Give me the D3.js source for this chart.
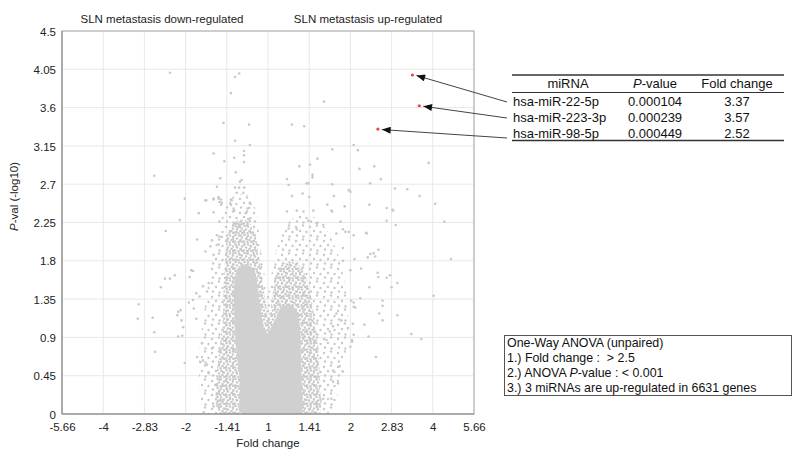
<!DOCTYPE html>
<html>
<head>
<meta charset="utf-8">
<script src="https://cdn.jsdelivr.net/npm/d3@7"></script>
<style>
  body { margin: 0; background: #fff; }
  svg { font-family: Arial, "Liberation Sans", sans-serif; }
  .pre { white-space: pre; }
</style>
</head>
<body>
<svg id="chart" width="792" height="449"></svg>
<script>
'use strict';

// x axis is log2(fold change), labelled with the signed fold change
const X_TICKS = [-2.5, -2, -1.5, -1, -0.5, 0, 0.5, 1, 1.5, 2, 2.5];
const X_TICK_LABELS = ['-5.66', '-4', '-2.83', '-2', '-1.41', '1', '1.41', '2', '2.83', '4', '5.66'];
const Y_TICKS = [0, 0.45, 0.9, 1.35, 1.8, 2.25, 2.7, 3.15, 3.6, 4.05, 4.5];
const Y_TICK_LABELS = ['0', '0.45', '0.9', '1.35', '1.8', '2.25', '2.7', '3.15', '3.6', '4.05', '4.5'];

// significant miRNAs (table + red points)
const MIRNAS = ['hsa-miR-22-5p', 'hsa-miR-223-3p', 'hsa-miR-98-5p'];
const P_VALUES = [0.000104, 0.000239, 0.000449];
const FOLD_CHANGES = [3.37, 3.57, 2.52];

// outline of the point cloud, [log2FC, -log10 p]
const CLOUD_SPARSE = [[-0.76, 0], [-0.83, 0.34], [-0.83, 0.75], [-0.78, 1.16], [-0.73, 1.52], [-0.66, 1.87],
  [-0.58, 2.22], [-0.51, 2.46], [-0.39, 2.57], [-0.24, 2.57], [-0.15, 2.40], [-0.10, 2.04], [-0.05, 1.69],
  [0, 1.43], [0.05, 1.69], [0.12, 1.99], [0.22, 2.22], [0.39, 2.34], [0.61, 2.28], [0.78, 2.04],
  [0.90, 1.69], [0.97, 1.22], [0.95, 0.75], [0.85, 0.34], [0.78, 0]];
const CLOUD_MID = [[-0.58, 0], [-0.63, 0.34], [-0.59, 0.75], [-0.55, 1.10], [-0.54, 1.46], [-0.52, 1.81],
  [-0.49, 2.10], [-0.40, 2.26], [-0.28, 2.28], [-0.18, 2.19], [-0.12, 1.93], [-0.07, 1.57], [-0.02, 1.28],
  [0, 1.13], [0.04, 1.28], [0.07, 1.52], [0.13, 1.72], [0.24, 1.79], [0.39, 1.74], [0.49, 1.52],
  [0.56, 1.16], [0.61, 0.75], [0.63, 0.34], [0.61, 0]];
const CLOUD_CORE = [[-0.30, 0], [-0.34, 0.40], [-0.39, 0.81], [-0.41, 1.22], [-0.41, 1.52], [-0.36, 1.72],
  [-0.27, 1.76], [-0.17, 1.69], [-0.12, 1.46], [-0.08, 1.16], [-0.02, 0.93], [0.02, 0.99], [0.10, 1.13],
  [0.16, 1.25], [0.27, 1.28], [0.35, 1.20], [0.39, 0.99], [0.40, 0.63], [0.41, 0.28], [0.39, 0]];

// single scattered points outside the dense cloud, [log2FC, -log10 p]
const SCATTER = [
  [-1.19, 4.01], [-0.35, 4.00], [-0.40, 3.96], [-0.45, 3.77], [-0.54, 3.42], [-0.23, 3.40], [-0.40, 3.21],
  [-0.22, 3.16], [-0.66, 3.06], [-0.29, 3.09], [-0.29, 3.04], [-0.41, 3.01], [-0.53, 2.97], [-0.29, 2.96],
  [-1.38, 2.80], [-0.39, 2.84], [-0.32, 2.75], [-0.34, 2.73], [-0.58, 2.77], [-0.62, 2.67], [-0.40, 2.66],
  [-0.35, 2.66], [-0.29, 2.66], [-0.38, 2.60], [-0.30, 2.60], [-1.01, 2.53], [-0.66, 2.53], [-0.60, 2.53],
  [-0.57, 2.52], [-0.75, 2.51], [-0.45, 2.52],
  [0.68, 3.67], [0.29, 3.40], [0.44, 3.38], [1.04, 3.16], [0.78, 3.11], [1.09, 3.10], [0.60, 3.00],
  [1.95, 2.95], [0.38, 2.91], [0.51, 2.93], [1.11, 2.88], [1.29, 2.91], [0.54, 2.81], [0.54, 2.78],
  [0.23, 2.76], [1.37, 2.76], [0.47, 2.71], [0.49, 2.71], [0.25, 2.69], [0.78, 2.70], [1.24, 2.71],
  [0.98, 2.63], [1.00, 2.61], [1.54, 2.65], [1.69, 2.64], [0.29, 2.56], [0.42, 2.59], [0.50, 2.55],
  [0.80, 2.56], [1.84, 2.56],
  [-1.07, 2.28], [-0.84, 2.36], [-0.66, 2.37], [-1.24, 2.15], [-0.86, 2.05], [-1.25, 1.59], [-1.19, 1.59],
  [-1.13, 1.63], [-1.30, 1.49], [-1.57, 1.29], [-1.58, 1.12], [-1.40, 1.13], [-1.38, 0.96], [-1.37, 0.73],
  [-1.09, 1.20], [-1.06, 1.22], [-1.10, 1.16], [-1.05, 1.10], [-1.03, 1.02], [-1.09, 0.91], [-1.04, 0.92],
  [-1.01, 0.60], [-0.91, 1.68], [-0.95, 1.61], [-0.96, 1.31], [-0.90, 1.24], [-0.87, 1.12], [-0.86, 0.67],
  [-0.82, 0.61], [-0.78, 0.02], [-0.66, 0.09], [-0.61, 0.15], [-0.62, 0.35],
  [-0.76, 2.51], [-0.66, 2.52], [-0.60, 2.55], [-0.59, 2.49], [-0.56, 2.48], [-0.59, 2.26], [-0.57, 2.46],
  [-0.44, 2.51], [-0.45, 2.46], [-0.22, 2.48], [-0.23, 2.42], [-0.27, 2.36], [-0.41, 2.39], [-0.38, 2.24],
  [-0.34, 2.22], [-0.37, 2.19], [-0.24, 2.29], [-0.22, 2.27],
  [-0.93, 1.69], [-0.76, 1.91], [-0.70, 1.97], [-0.66, 1.87], [-0.60, 1.99], [-0.62, 2.10], [-0.56, 2.08],
  [-0.50, 2.04], [-0.68, 2.04], [-0.87, 1.42], [-0.91, 1.34], [-0.83, 1.38], [-0.79, 1.50], [-0.72, 1.54],
  [-0.74, 1.44], [-0.79, 0.63], [-0.74, 0.58], [-0.80, 0.83], [-0.68, 0.77], [-0.72, 0.48], [-0.64, 0.34],
  [-0.62, 0.24], [-0.58, 0.16],
  [2.03, 2.47], [2.14, 2.26], [2.22, 1.82], [2.01, 1.39], [1.23, 2.46], [1.44, 2.42], [1.52, 2.39],
  [1.44, 2.27], [1.55, 2.22], [1.19, 2.13], [1.34, 1.93], [1.28, 1.89], [1.24, 1.88], [1.30, 1.85],
  [1.21, 1.84], [1.13, 1.71], [1.33, 1.66], [1.34, 1.61], [1.44, 1.60], [1.48, 1.63], [1.57, 1.54],
  [1.50, 1.49], [1.23, 1.49], [1.39, 1.33], [1.39, 1.27], [1.35, 1.18], [1.39, 1.10], [1.57, 1.16],
  [1.74, 0.94], [1.86, 0.88], [1.31, 0.67], [1.22, 0.91], [1.17, 1.05], [1.04, 0.93], [1.02, 0.87],
  [1.03, 1.06], [1.12, 1.36], [1.06, 1.25], [0.93, 2.44], [0.72, 2.46], [0.78, 2.38], [0.88, 2.26],
  [1.04, 2.10], [0.98, 2.14], [0.94, 2.14], [0.79, 0.38], [0.85, 0.36], [0.67, 0.18], [0.77, 0.18],
  [0.59, 0.14], [0.87, 0.56], [0.91, 0.50], [0.79, 0.51], [1.00, 1.69], [1.05, 1.82], [0.91, 1.80],
  [0.91, 1.95], [1.01, 1.33], [1.04, 1.31], [1.02, 0.85], [1.00, 0.79],
  [0.23, 2.38], [0.35, 2.39], [0.43, 2.38], [0.55, 2.39], [0.59, 2.24], [0.25, 2.18], [0.35, 2.17],
  [0.49, 2.27], [0.67, 2.22], [0.77, 2.39], [0.83, 2.12], [0.91, 2.17], [1.20, 2.12], [1.51, 2.40],
  [1.04, 1.26], [0.89, 1.10], [0.97, 1.01], [0.83, 1.18], [0.79, 1.03], [0.75, 0.97], [0.71, 0.87]
];

const ANOVA_LINES = [
  ['One-Way ANOVA (unpaired)'],
  ['1.) Fold change :  > 2.5'],
  ['2.) ANOVA ', 'P', '-value : < 0.001'],
  ['3.) 3 miRNAs are up-regulated in 6631 genes']
];

const GRAY = '#c9c9c9';
const RED = '#e8463f';

const svg = d3.select('#chart');
const x = d3.scaleLinear().domain([-2.5, 2.5]).range([62, 474]);
const y = d3.scaleLinear().domain([0, 4.5]).range([414, 31]);

const defs = svg.append('defs');
defs.append('clipPath').attr('id', 'plotclip')
    .append('rect')
    .attr('x', x(-2.5)).attr('y', y(4.5))
    .attr('width', x(2.5) - x(-2.5)).attr('height', y(0) - y(4.5));

// dot textures standing in for the overlapping markers of the cloud
function dotPattern(id, size, r, dots) {
  const p = defs.append('pattern').attr('id', id)
      .attr('patternUnits', 'userSpaceOnUse').attr('width', size).attr('height', size);
  dots.forEach(function(d) {
    p.append('circle').attr('cx', d[0]).attr('cy', d[1]).attr('r', r).attr('fill', GRAY);
  });
}
dotPattern('dotsSparse', 14, 1.2, [[2, 3], [9, 1.5], [6, 7], [12.5, 8], [3, 11.5], [9.5, 12.5]]);
dotPattern('dotsMid', 9, 1.3, [[1.5, 1], [5, 1.5], [8, 3.5], [3, 4.5], [6.5, 6], [1, 7.5], [4.5, 8.2], [8.3, 8]]);

defs.append('marker').attr('id', 'arrow')
    .attr('viewBox', '0 0 10 8').attr('refX', 10).attr('refY', 4)
    .attr('markerUnits', 'userSpaceOnUse')
    .attr('markerWidth', 10).attr('markerHeight', 7)
    .attr('orient', 'auto')
    .append('path').attr('d', 'M0,0L10,4L0,8Z').attr('fill', '#111');

// grid
const grid = svg.append('g');
grid.selectAll('line.gx').data(X_TICKS).enter().append('line')
    .attr('x1', d => x(d)).attr('x2', d => x(d))
    .attr('y1', y(0)).attr('y2', y(4.5))
    .attr('stroke', '#e8e8e8');
grid.selectAll('line.gy').data(Y_TICKS).enter().append('line')
    .attr('y1', d => y(d)).attr('y2', d => y(d))
    .attr('x1', x(-2.5)).attr('x2', x(2.5))
    .attr('stroke', '#e8e8e8');

// point cloud
const plot = svg.append('g').attr('clip-path', 'url(#plotclip)');
const outline = d3.line().x(d => x(d[0])).y(d => y(d[1])).curve(d3.curveCatmullRomClosed.alpha(0.5));
plot.append('path').datum(CLOUD_SPARSE).attr('d', outline).attr('fill', 'url(#dotsSparse)');
plot.append('path').datum(CLOUD_MID).attr('d', outline).attr('fill', 'url(#dotsMid)');
plot.append('path').datum(CLOUD_CORE).attr('d', outline).attr('fill', '#d0d0d0');

plot.selectAll('circle.pt').data(SCATTER).enter().append('circle')
    .attr('cx', d => x(d[0])).attr('cy', d => y(d[1]))
    .attr('r', 1.3).attr('fill', GRAY);

const sig = MIRNAS.map((m, i) => ({
  name: m, p: P_VALUES[i], fc: FOLD_CHANGES[i],
  lx: Math.log2(FOLD_CHANGES[i]), ly: -Math.log10(P_VALUES[i])
}));
plot.selectAll('circle.sig').data(sig).enter().append('circle')
    .attr('cx', d => x(d.lx)).attr('cy', d => y(d.ly))
    .attr('r', 1.6).attr('fill', RED);

// frame
svg.append('rect')
    .attr('x', x(-2.5)).attr('y', y(4.5))
    .attr('width', x(2.5) - x(-2.5)).attr('height', y(0) - y(4.5))
    .attr('fill', 'none').attr('stroke', '#a8a8a8');
svg.append('path')
    .attr('d', 'M' + x(-2.5) + ',' + y(4.5) + 'V' + y(0) + 'H' + x(2.5))
    .attr('fill', 'none').attr('stroke', '#888');

// axes
const xAxis = svg.append('g').attr('transform', 'translate(0,' + y(0) + ')')
    .call(d3.axisBottom(x).tickValues(X_TICKS).tickSize(0).tickPadding(9)
        .tickFormat((d, i) => X_TICK_LABELS[i]));
const yAxis = svg.append('g').attr('transform', 'translate(' + x(-2.5) + ',0)')
    .call(d3.axisLeft(y).tickValues(Y_TICKS).tickSize(0).tickPadding(6)
        .tickFormat((d, i) => Y_TICK_LABELS[i]));
[xAxis, yAxis].forEach(a => {
  a.select('.domain').remove();
  a.selectAll('text').attr('font-size', 11.5).attr('fill', '#222')
      .attr('font-family', 'Arial, "Liberation Sans", sans-serif');
});
yAxis.selectAll('text').attr('dy', '0.36em');

svg.append('text').attr('x', x(0)).attr('y', 447)
    .attr('text-anchor', 'middle').attr('font-size', 11.5).attr('fill', '#222')
    .text('Fold change');

const yl = svg.append('text')
    .attr('transform', 'translate(18,' + ((y(0) + y(4.5)) / 2 - 26) + ') rotate(-90)')
    .attr('text-anchor', 'middle').attr('font-size', 11.5).attr('fill', '#222');
yl.append('tspan').attr('font-style', 'italic').text('P');
yl.append('tspan').text('-val (-log10)');

svg.append('text').attr('x', 162).attr('y', 23)
    .attr('text-anchor', 'middle').attr('font-size', 11.5).attr('fill', '#222')
    .text('SLN metastasis down-regulated');
svg.append('text').attr('x', 368).attr('y', 23)
    .attr('text-anchor', 'middle').attr('font-size', 11.5).attr('fill', '#222')
    .text('SLN metastasis up-regulated');

// table
const table = svg.append('g').attr('font-size', 13).attr('fill', '#111');
const tLeft = 512, tRight = 784, rowY = [101, 117, 133];
table.append('line').attr('x1', tLeft).attr('x2', tRight).attr('y1', 75).attr('y2', 75)
    .attr('stroke', '#333').attr('stroke-width', 1.5);
table.append('line').attr('x1', tLeft).attr('x2', tRight).attr('y1', 92.5).attr('y2', 92.5)
    .attr('stroke', '#333').attr('stroke-width', 1);
table.append('line').attr('x1', tLeft).attr('x2', tRight).attr('y1', 140.5).attr('y2', 140.5)
    .attr('stroke', '#333').attr('stroke-width', 1.5);
table.append('text').attr('x', 568).attr('y', 88).attr('text-anchor', 'middle').text('miRNA');
const ph = table.append('text').attr('x', 655).attr('y', 88).attr('text-anchor', 'middle');
ph.append('tspan').attr('font-style', 'italic').text('P');
ph.append('tspan').text('-value');
table.append('text').attr('x', 737).attr('y', 88).attr('text-anchor', 'middle').text('Fold change');

const rows = table.selectAll('g.row').data(sig).enter().append('g');
rows.append('text').attr('x', 513).attr('y', (d, i) => rowY[i] + 4.5).text(d => d.name);
rows.append('text').attr('x', 655).attr('y', (d, i) => rowY[i] + 4.5).attr('text-anchor', 'middle')
    .text(d => d.p.toFixed(6));
rows.append('text').attr('x', 737).attr('y', (d, i) => rowY[i] + 4.5).attr('text-anchor', 'middle')
    .text(d => d.fc.toFixed(2));

// arrows from the table rows to the red points
const arrowStartY = [102, 118, 138];
svg.selectAll('line.arrow').data(sig).enter().append('line')
    .attr('x1', 507).attr('y1', (d, i) => arrowStartY[i])
    .attr('x2', d => x(d.lx) + 4).attr('y2', d => y(d.ly) + 0.5)
    .attr('stroke', '#444').attr('stroke-width', 1)
    .attr('marker-end', 'url(#arrow)');

// ANOVA box
const box = svg.append('g');
box.append('rect').attr('x', 504.5).attr('y', 335.5).attr('width', 287).attr('height', 60)
    .attr('fill', '#fff').attr('stroke', '#555');
const bt = box.selectAll('text').data(ANOVA_LINES).enter().append('text')
    .attr('class', 'pre')
    .attr('x', 507).attr('y', (d, i) => 347 + i * 14.9)
    .attr('font-size', 12.4).attr('fill', '#111');
bt.selectAll('tspan').data(d => d).enter().append('tspan')
    .attr('font-style', (d, i) => (i === 1 ? 'italic' : null))
    .text(d => d);
</script>
</body>
</html>
